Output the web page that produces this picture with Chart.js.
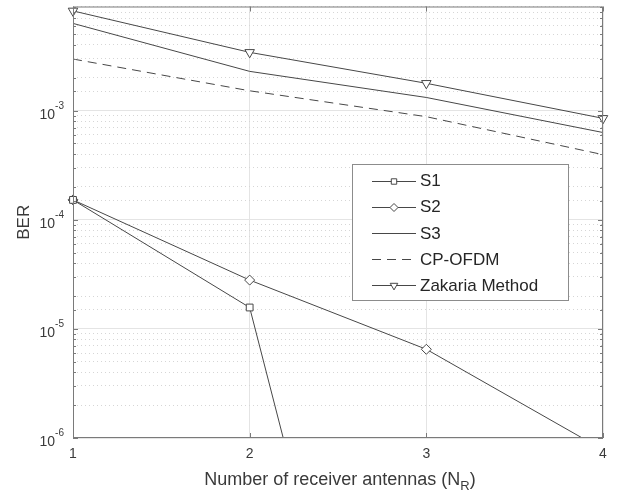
<!DOCTYPE html>
<html lang="en">
<head>
<meta charset="UTF-8" />
<title>BER vs receiver antennas</title>
<script src="https://cdn.jsdelivr.net/npm/chart.js"></script>
<style>
  body { margin: 0; background: #fff; }
  .caixa { width: 618px; height: 495px; position: relative; }
</style>
</head>
<body>
<div class="caixa"><canvas id="berChart"></canvas></div>
<script>
  // values
  const antenas = [1, 2, 3, 4];
  const s1 = [1.52e-4, 1.57e-5, 8e-12, null];
  const s2 = [1.52e-4, 2.8e-5, 6.5e-6, 7.8e-7];
  const s3 = [6.3e-3, 2.29e-3, 1.32e-3, 6.3e-4];
  const cpOfdm = [2.97e-3, 1.52e-3, 8.8e-4, 3.95e-4];
  const zakaria = [8.2e-3, 3.42e-3, 1.78e-3, 8.5e-4];
  const yMin = 1e-6;
  const yMax = 9e-3;
  const xTicks = [1, 2, 3, 4];

  const corLinha = "#474747";
  const corEixo = "#7a7a7a";
  const corTexto = "#3a3a3a";
  const fonte = "'Liberation Sans', Arial, sans-serif";

  function pontos(serie) {
    return antenas.map((x, i) => ({ x: x, y: serie[i] }));
  }

  function ehDecada(v) {
    const l = Math.log10(v);
    return Math.abs(l - Math.round(l)) < 1e-6;
  }

  function serie(label, valores, estilo, extra) {
    return Object.assign({
      label: label,
      data: pontos(valores),
      borderColor: corLinha,
      backgroundColor: "#fff",
      pointBorderColor: corLinha,
      pointBackgroundColor: "#fff",
      borderWidth: 1,
      pointBorderWidth: 1,
      pointStyle: estilo,
      pointRadius: estilo ? 5 : 0,
      pointHoverRadius: 0,
      tension: 0,
      spanGaps: false,
      // markers may sit on the box, lines below the axis stay cut
      clip: { left: 10, top: 10, right: 10, bottom: 0 },
    }, extra || {});
  }

  const dados = {
    datasets: [
      serie("S1", s1, "rect", { pointRadius: 4.8 }),
      serie("S2", s2, "rectRot", { pointRadius: 5 }),
      serie("S3", s3, false),
      serie("CP-OFDM", cpOfdm, false, { borderDash: [9, 6] }),
      serie("Zakaria Method", zakaria, "triangle", { pointRadius: 5.5, pointRotation: 180 }),
    ],
  };

  // box, inward ticks, y labels with exponents, axis titles
  const moldura = {
    id: "moldura",
    afterDraw(chart) {
      const ctx = chart.ctx;
      const a = chart.chartArea;
      const y = chart.scales.y;
      const x = chart.scales.x;
      ctx.save();
      ctx.strokeStyle = corEixo;
      ctx.lineWidth = 1;
      ctx.strokeRect(a.left + 0.5, a.top + 0.5, a.right - a.left - 1, a.bottom - a.top - 1);

      ctx.beginPath();
      y.ticks.forEach((t) => {
        const py = Math.round(y.getPixelForValue(t.value)) + 0.5;
        const len = ehDecada(t.value) ? 5 : 3;
        ctx.moveTo(a.left, py); ctx.lineTo(a.left + len, py);
        ctx.moveTo(a.right, py); ctx.lineTo(a.right - len, py);
      });
      x.ticks.forEach((t) => {
        const px = Math.round(x.getPixelForValue(t.value)) + 0.5;
        ctx.moveTo(px, a.bottom); ctx.lineTo(px, a.bottom - 5);
        ctx.moveTo(px, a.top); ctx.lineTo(px, a.top + 5);
      });
      ctx.stroke();

      // y tick labels 10^n
      ctx.fillStyle = corTexto;
      ctx.textBaseline = "alphabetic";
      y.ticks.forEach((t) => {
        if (!ehDecada(t.value)) return;
        const py = y.getPixelForValue(t.value);
        const exp = String(Math.round(Math.log10(t.value)));
        ctx.font = "10px " + fonte;
        const we = ctx.measureText(exp).width;
        ctx.textAlign = "left";
        ctx.fillText(exp, a.left - 9 - we, py - 2);
        ctx.font = "14px " + fonte;
        ctx.textAlign = "right";
        ctx.fillText("10", a.left - 9 - we, py + 8);
      });

      // x title with subscript
      const partes = ["Number of receiver antennas (N", "R", ")"];
      ctx.font = "18px " + fonte;
      const w0 = ctx.measureText(partes[0]).width;
      const w2 = ctx.measureText(partes[2]).width;
      ctx.font = "13px " + fonte;
      const w1 = ctx.measureText(partes[1]).width;
      let px = (a.left + a.right) / 2 + 2 - (w0 + w1 + w2) / 2;
      const base = 485;
      ctx.textAlign = "left";
      ctx.font = "18px " + fonte;
      ctx.fillText(partes[0], px, base);
      px += w0;
      ctx.font = "13px " + fonte;
      ctx.fillText(partes[1], px, base + 5);
      px += w1;
      ctx.font = "18px " + fonte;
      ctx.fillText(partes[2], px, base);

      // y title
      ctx.translate(29, (a.top + a.bottom) / 2);
      ctx.rotate(-Math.PI / 2);
      ctx.textAlign = "center";
      ctx.font = "17px " + fonte;
      ctx.fillText("BER", 0, 0);
      ctx.restore();
    },
  };

  // legend box inside the axes, like the MATLAB one
  const legenda = {
    id: "legenda",
    afterDraw(chart) {
      const ctx = chart.ctx;
      const caixa = { x: 352, y: 164, w: 216, h: 136 };
      ctx.save();
      ctx.fillStyle = "#fff";
      ctx.fillRect(caixa.x, caixa.y, caixa.w, caixa.h);
      ctx.strokeStyle = "#8c8c8c";
      ctx.lineWidth = 1;
      ctx.strokeRect(caixa.x + 0.5, caixa.y + 0.5, caixa.w, caixa.h);
      chart.data.datasets.forEach((ds, i) => {
        const ly = caixa.y + 16.5 + i * 26.2;
        ctx.strokeStyle = ds.borderColor;
        ctx.lineWidth = 1;
        ctx.setLineDash(ds.borderDash || []);
        ctx.beginPath();
        ctx.moveTo(372, Math.round(ly) + 0.5);
        ctx.lineTo(416, Math.round(ly) + 0.5);
        ctx.stroke();
        ctx.setLineDash([]);
        if (ds.pointStyle) {
          ctx.fillStyle = "#fff";
          Chart.helpers.drawPoint(ctx, {
            pointStyle: ds.pointStyle,
            rotation: ds.pointRotation || 0,
            radius: ds.pointRadius * 0.8,
            borderWidth: 1,
          }, 394, Math.round(ly) + 0.5);
        }
        ctx.fillStyle = "#262626";
        ctx.font = "17px " + fonte;
        ctx.textAlign = "left";
        ctx.textBaseline = "middle";
        ctx.fillText(ds.label, 420, ly + 1);
      });
      ctx.restore();
    },
  };

  const config = {
    type: "line",
    data: dados,
    options: {
      responsive: true,
      maintainAspectRatio: false,
      animation: false,
      layout: { padding: { top: 6, right: 15, left: 0, bottom: 0 } },
      plugins: {
        legend: { display: false },
        tooltip: { enabled: false },
      },
      scales: {
        x: {
          type: "linear",
          min: 1,
          max: 4,
          afterBuildTicks: (s) => { s.ticks = xTicks.map((v) => ({ value: v })); },
          grid: { color: "#e4e4e4", drawTicks: false },
          border: { display: false },
          ticks: {
            color: corTexto,
            font: { family: fonte, size: 14 },
            padding: 8,
            autoSkip: false,
            maxRotation: 0,
          },
          afterFit: (s) => { s.height = 57; },
        },
        y: {
          type: "logarithmic",
          min: yMin,
          max: yMax,
          position: "left",
          grid: {
            drawTicks: false,
            color: (c) => (c.tick && ehDecada(c.tick.value) ? "#e4e4e4" : "rgba(0,0,0,0)"),
          },
          border: { display: false },
          ticks: { display: false, autoSkip: false },
          afterFit: (s) => { s.width = 73; },
        },
        yMenor: {
          type: "logarithmic",
          min: yMin,
          max: yMax,
          position: "left",
          grid: {
            drawTicks: false,
            color: (c) => (c.tick && !ehDecada(c.tick.value) ? "#d6d6d6" : "rgba(0,0,0,0)"),
          },
          border: { display: false, dash: [1, 3] },
          ticks: { display: false, autoSkip: false },
          afterFit: (s) => { s.width = 0; },
        },
      },
    },
    plugins: [moldura, legenda],
  };

  const meuGrafico = new Chart(document.getElementById("berChart").getContext("2d"), config);
</script>
</body>
</html>
